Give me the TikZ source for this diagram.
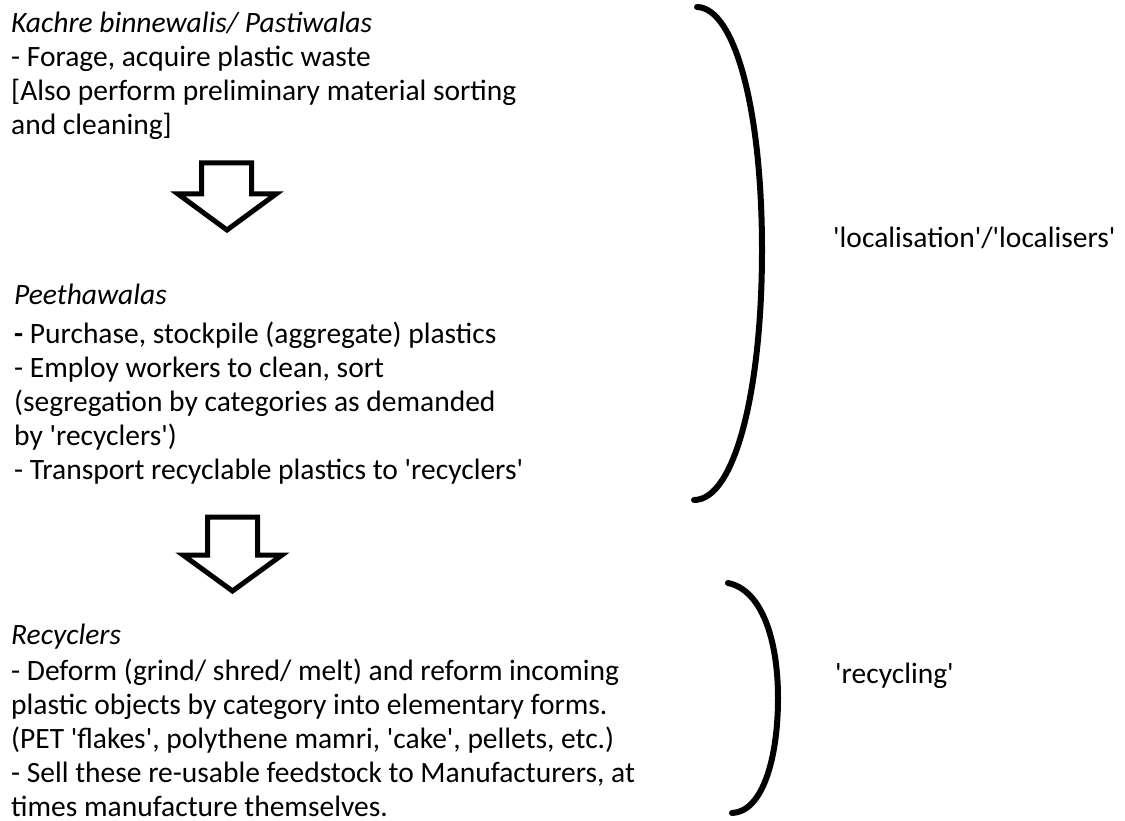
\documentclass[tikz,border=0pt]{standalone}
\usepackage{fontspec}
\setmainfont{Carlito}[Ligatures=TeXOff]
\newcommand{\blk}[1]{\begin{tabular}[t]{@{}l@{}}#1\end{tabular}}
\begin{document}
\begin{tikzpicture}[x=1pt,y=-1pt,
  txt/.style={inner sep=0pt, anchor=base west, font=\fontsize{29.5}{34}\selectfont},
  ttl/.style={txt, font=\fontsize{29.5}{34}\selectfont\itshape},
  blockarrow/.style={draw=black, line width=5pt, fill=white, miter limit=10},
  brace/.style={draw=black, line width=6pt, line cap=round}]
\useasboundingbox (0,0) rectangle (1125,821);
% block 1
\node[ttl] (t1) at (11,33) {Kachre binnewalis/ Pastiwalas};
\node[txt] (b1) at (11,67) {\blk{- Forage, acquire plastic waste\\{[}Also perform preliminary material sorting\\and cleaning{]}}};
% arrow 1
\draw[blockarrow] (201.5,163) -- (251.5,163) -- (251.5,194) -- (276,194) -- (227,230) -- (178,194) -- (201.5,194) -- cycle;
% block 2
\node[ttl] (t2) at (14,305) {Peethawalas};
\node[txt] (b2) at (14,343) {\blk{\textbf{-} Purchase, stockpile (aggregate) plastics\\- Employ workers to clean, sort\\(segregation by categories as demanded\\by 'recyclers')\\- Transport recyclable plastics to 'recyclers'}};
% arrow 2
\draw[blockarrow] (207.5,517) -- (257.5,517) -- (257.5,555) -- (282,555) -- (232.5,591) -- (183,555) -- (207.5,555) -- cycle;
% block 3
\node[ttl] (t3) at (11,644) {Recyclers};
\node[txt] (b3) at (11,680) {\blk{- Deform (grind/ shred/ melt) and reform incoming\\plastic objects by category into elementary forms.\\(PET 'flakes', polythene mamri, 'cake', pellets, etc.)\\- Sell these re-usable feedstock to Manufacturers, at\\times manufacture themselves.}};
% brackets
\draw[brace] (697,7) .. controls (735,8) and (762,110) .. (762,250) .. controls (762,390) and (735,500) .. (694,500);
\draw[brace] (728,583) .. controls (762,590) and (778,640) .. (778,698) .. controls (778,760) and (762,812) .. (732,813);
% labels
\node[txt] (l1) at (833,248) {'localisation'/'localisers'};
\node[txt] (l2) at (835,683) {'recycling'};
\end{tikzpicture}
\end{document}
